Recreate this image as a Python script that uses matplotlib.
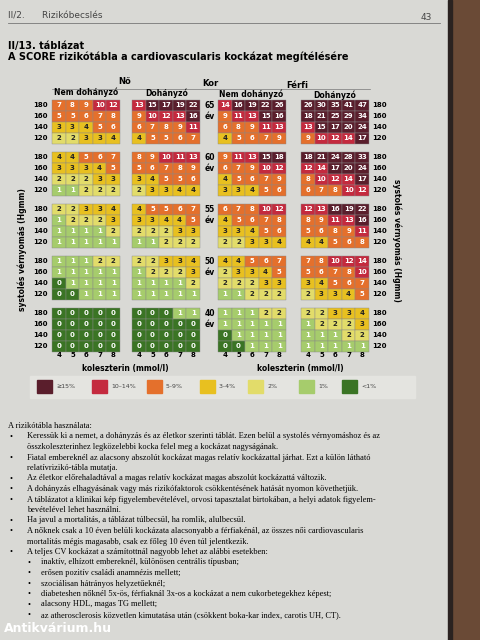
import matplotlib.pyplot as plt
from matplotlib.patches import Rectangle

# SCORE values: [age][row 180,160,140,120][chol 4..8]
ages = [65, 60, 55, 50, 40]
sbp_labels = [180, 160, 140, 120]
chol_labels = [4, 5, 6, 7, 8]

women_ns = [
    [[7, 8, 9, 10, 12], [5, 5, 6, 7, 8], [3, 3, 4, 5, 6], [2, 2, 3, 3, 4]],
    [[4, 4, 5, 6, 7], [3, 3, 3, 4, 5], [2, 2, 2, 3, 3], [1, 1, 2, 2, 2]],
    [[2, 2, 3, 3, 4], [1, 2, 2, 2, 3], [1, 1, 1, 1, 2], [1, 1, 1, 1, 1]],
    [[1, 1, 1, 2, 2], [1, 1, 1, 1, 1], [0, 1, 1, 1, 1], [0, 0, 1, 1, 1]],
    [[0, 0, 0, 0, 0], [0, 0, 0, 0, 0], [0, 0, 0, 0, 0], [0, 0, 0, 0, 0]],
]
women_s = [
    [[13, 15, 17, 19, 22], [9, 10, 12, 13, 16], [6, 7, 8, 9, 11], [4, 5, 5, 6, 7]],
    [[8, 9, 10, 11, 13], [5, 6, 7, 8, 9], [3, 4, 5, 5, 6], [2, 3, 3, 4, 4]],
    [[4, 5, 5, 6, 7], [3, 3, 4, 4, 5], [2, 2, 2, 3, 3], [1, 1, 2, 2, 2]],
    [[2, 2, 3, 3, 4], [1, 2, 2, 2, 3], [1, 1, 1, 1, 2], [1, 1, 1, 1, 1]],
    [[0, 0, 0, 1, 1], [0, 0, 0, 0, 0], [0, 0, 0, 0, 0], [0, 0, 0, 0, 0]],
]
men_ns = [
    [[14, 16, 19, 22, 26], [9, 11, 13, 15, 16], [6, 8, 9, 11, 13], [4, 5, 6, 7, 9]],
    [[9, 11, 13, 15, 18], [6, 7, 9, 10, 12], [4, 5, 6, 7, 9], [3, 3, 4, 5, 6]],
    [[6, 7, 8, 10, 12], [4, 5, 6, 7, 8], [3, 3, 4, 5, 6], [2, 2, 3, 3, 4]],
    [[4, 4, 5, 6, 7], [2, 3, 3, 4, 5], [2, 2, 2, 3, 3], [1, 1, 2, 2, 2]],
    [[1, 1, 1, 2, 2], [1, 1, 1, 1, 1], [0, 1, 1, 1, 1], [0, 0, 1, 1, 1]],
]
men_s = [
    [[26, 30, 35, 41, 47], [18, 21, 25, 29, 34], [13, 15, 17, 20, 24], [9, 10, 12, 14, 17]],
    [[18, 21, 24, 28, 33], [12, 14, 17, 20, 24], [8, 10, 12, 14, 17], [6, 7, 8, 10, 12]],
    [[12, 13, 16, 19, 22], [8, 9, 11, 13, 16], [5, 6, 8, 9, 11], [4, 4, 5, 6, 8]],
    [[7, 8, 10, 12, 14], [5, 6, 7, 8, 10], [3, 4, 5, 6, 7], [2, 3, 3, 4, 5]],
    [[2, 2, 3, 3, 4], [1, 2, 2, 2, 3], [1, 1, 1, 2, 2], [1, 1, 1, 1, 1]],
]

legend_labels = ["≥15%", "10–14%", "5–9%", "3–4%", "2%", "1%", "<1%"]
legend_colors = ["#5a1e2c", "#c42a3e", "#e4702c", "#e8c020", "#e2dc6a", "#a6cc6c", "#3a7424"]

text_lines = [
    (0, "A rizikótábla használata:"),
    (1, "Keressük ki a nemet, a dohányzás és az életkor szerinti táblát. Ezen belül a systolés vérnyomáshoz és az"),
    (2, "összkoleszterinhez legközelebbi kocka felel meg a kockázat nagyságának."),
    (1, "Fiatal embereknél az alacsony abszolút kockázat magas relatív kockázattal járhat. Ezt a külön látható"),
    (2, "relatívrizikó-tábla mutatja."),
    (1, "Az életkor előrehaladtával a magas relatív kockázat magas abszolút kockázattá változik."),
    (1, "A dohányzás elhagyásának vagy más rizikófaktorok csökkentésének hatását nyomon követhetjük."),
    (1, "A táblázatot a klinikai kép figyelembevételével, orvosi tapasztalat birtokában, a helyi adatok figyelem-"),
    (2, "bevételével lehet használni."),
    (1, "Ha javul a mortalitás, a táblázat túlbecsül, ha romlik, alulbecsül."),
    (1, "A nőknek csak a 10 éven belüli kockázata alacsonyabb a férfiakénál, az összes női cardiovascularis"),
    (2, "mortalitás mégis magasabb, csak ez főleg 10 éven túl jelentkezik."),
    (1, "A teljes CV kockázat a számítottnál nagyobb lehet az alábbi esetekben:"),
    (3, "inaktív, elhízott embereknél, különösen centrális típusban;"),
    (3, "erősen pozitív családi anamnézis mellett;"),
    (3, "szociálisan hátrányos helyzetűeknél;"),
    (3, "diabeteshen nőknél 5x-ös, férfiaknál 3x-os a kockázat a nem cukorbetegekhez képest;"),
    (3, "alacsony HDL, magas TG mellett;"),
    (3, "az atherosclerosis közvetlen kimutatása után (csökkent boka-kar index, carotis UH, CT)."),
]


def risk_color(v):
    if v >= 15:
        return legend_colors[0]
    if v >= 10:
        return legend_colors[1]
    if v >= 5:
        return legend_colors[2]
    if v >= 3:
        return legend_colors[3]
    if v == 2:
        return legend_colors[4]
    if v == 1:
        return legend_colors[5]
    return legend_colors[6]


fig = plt.figure(figsize=(4.8, 6.4), dpi=100)
fig.patch.set_facecolor("#d9d9d5")
ax = fig.add_axes([0, 0, 1, 1])
ax.set_xlim(0, 480)
ax.set_ylim(640, 0)
ax.axis("off")

# page edge on the right
ax.add_patch(Rectangle((452, 0), 28, 640, color="#6a4a36"))
ax.add_patch(Rectangle((448, 0), 4, 640, color="#2a2220"))

# header
ax.text(8, 16, "II/2.      Rizikóbecslés", fontsize=6.5, color="#444", va="center")
ax.plot([8, 440], [23, 23], color="#777", lw=0.6)
ax.text(432, 17, "43", fontsize=6.5, color="#444", va="center", ha="right")
ax.text(8, 46, "II/13. táblázat", fontsize=7, weight="bold", va="center")
ax.text(8, 57, "A SCORE rizikótábla a cardiovascularis kockázat megítélésére",
        fontsize=7, weight="bold", va="center")

cw, rh = 13.6, 10.9
block_top = [100, 152, 204, 256, 308]
groups = [(52, women_ns), (132, women_s), (218, men_ns), (301, men_s)]
txt_kw = dict(fontsize=5, weight="bold", ha="center", va="center")

for bi, age in enumerate(ages):
    y0 = block_top[bi]
    for gx, data in groups:
        for r in range(4):
            for c in range(5):
                v = data[bi][r][c]
                ax.add_patch(Rectangle((gx + c * cw, y0 + r * rh), cw, rh,
                                       facecolor=risk_color(v), edgecolor="#888", lw=0.3))
                tc = "white" if (v >= 5 or v <= 1) else "#222"
                ax.text(gx + c * cw + cw / 2, y0 + r * rh + rh / 2, str(v), color=tc, **txt_kw)
    for r, s in enumerate(sbp_labels):
        ax.text(48, y0 + r * rh + rh / 2, str(s), fontsize=5, weight="bold", ha="right", va="center")
        ax.text(372, y0 + r * rh + rh / 2, str(s), fontsize=5, weight="bold", ha="left", va="center")
    ax.text(210, y0 + rh / 2, str(age), fontsize=5.5, weight="bold", ha="center", va="center")
    ax.text(210, y0 + 1.5 * rh, "év", fontsize=5.5, weight="bold", ha="center", va="center")

# column headers
ax.text(125, 84, "Nő", fontsize=6, weight="bold", ha="center")
ax.text(210, 86, "Kor", fontsize=6, weight="bold", ha="center")
ax.text(297, 88, "Férfi", fontsize=6, weight="bold", ha="center")
ax.text(86, 95, "Nem dohányzó", fontsize=5.5, weight="bold", ha="center")
ax.text(167, 96, "Dohányzó", fontsize=5.5, weight="bold", ha="center")
ax.text(251, 97, "Nem dohányzó", fontsize=5.5, weight="bold", ha="center")
ax.text(335, 98, "Dohányzó", fontsize=5.5, weight="bold", ha="center")
ax.plot([52, 370], [89, 89], color="#777", lw=0.5)

for gx, _ in groups:
    for c, ch in enumerate(chol_labels):
        ax.text(gx + c * cw + cw / 2, 355, str(ch), fontsize=5, weight="bold", ha="center", va="center")
ax.text(125, 368, "koleszterin (mmol/l)", fontsize=5.5, weight="bold", ha="center", va="center")
ax.text(300, 368, "koleszterin (mmol/l)", fontsize=5.5, weight="bold", ha="center", va="center")
ax.text(22, 250, "systolés vérnyomás (Hgmm)", fontsize=5.5, weight="bold", rotation=90,
        ha="center", va="center")
ax.text(397, 240, "systolés vérnyomás (Hgmm)", fontsize=5.5, weight="bold", rotation=-90,
        ha="center", va="center")

# legend
ax.add_patch(Rectangle((30, 376), 385, 22, color="#e4e4e0"))
leg_x = [37, 92, 147, 200, 248, 299, 342]
for lx, lab, col in zip(leg_x, legend_labels, legend_colors):
    ax.add_patch(Rectangle((lx, 380), 15, 13, color=col))
    ax.text(lx + 19, 387, lab, fontsize=4.5, color="#444", va="center")

# body text
ty = 426
for level, line in text_lines:
    if level == 0:
        ax.text(8, ty, line, fontsize=6, family="Liberation Serif", va="center")
    elif level == 1:
        ax.text(10, ty, "•", fontsize=6, family="Liberation Serif", va="center")
        ax.text(27, ty, line, fontsize=6, family="Liberation Serif", va="center")
    elif level == 2:
        ax.text(27, ty, line, fontsize=6, family="Liberation Serif", va="center")
    else:
        ax.text(28, ty, "•", fontsize=6, family="Liberation Serif", va="center")
        ax.text(41, ty, line, fontsize=6, family="Liberation Serif", va="center")
    ty += 10.5

ax.text(4, 628, "Antikvárium.hu", fontsize=9, weight="bold", color="white", va="center")

fig.savefig("out.png", dpi=100, facecolor=fig.get_facecolor())
